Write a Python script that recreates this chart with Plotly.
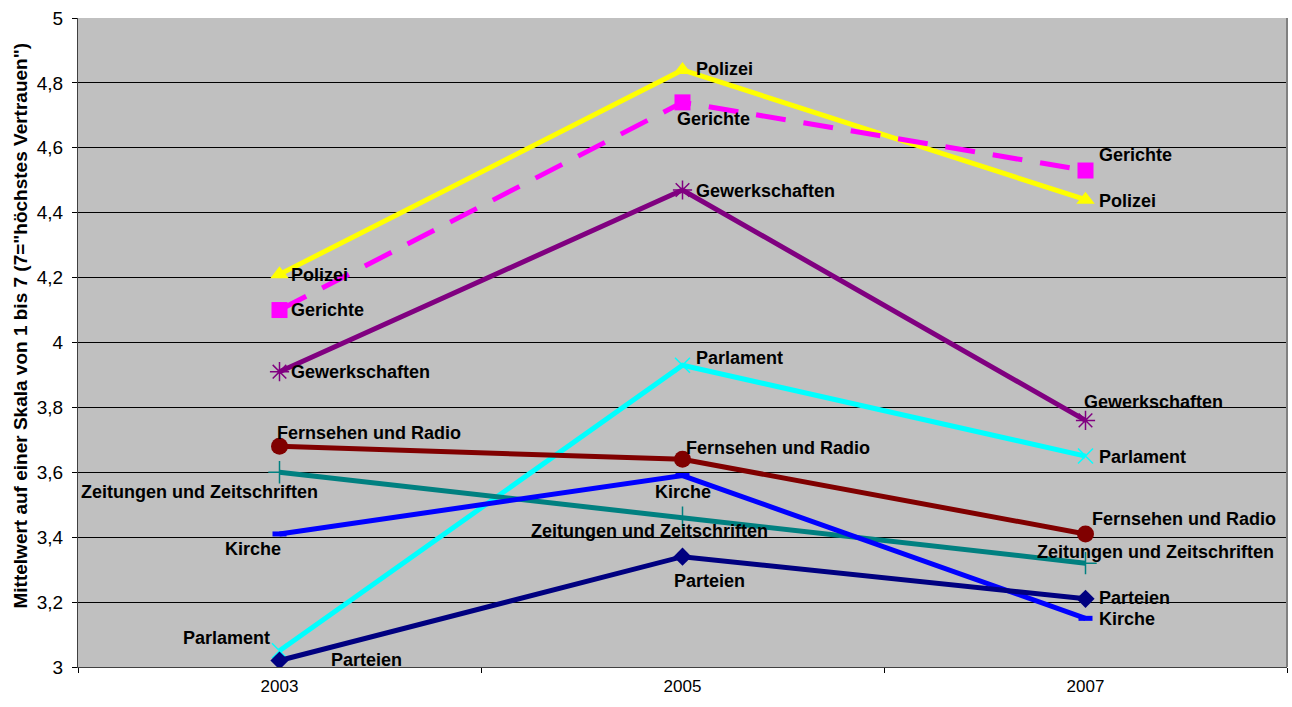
import plotly.graph_objects as go

years = ["2003", "2005", "2007"]

polizei = [4.21, 4.84, 4.44]
gerichte = [4.10, 4.74, 4.53]
gewerkschaften = [3.91, 4.47, 3.76]
parlament = [3.05, 3.93, 3.65]
fernsehen = [3.68, 3.64, 3.41]
zeitungen = [3.60, 3.46, 3.32]
kirche = [3.41, 3.59, 3.15]
parteien = [3.02, 3.34, 3.21]

y_title = 'Mittelwert auf einer Skala von 1 bis 7 (7="höchstes Vertrauen")'

FONT = "Liberation Sans, Arial, sans-serif"
LABEL_SIZE = 18

# name, values, colour, marker symbol, marker size, dash, label offsets per year
# offsets: (xanchor, xshift, yshift)
series = [
    ("Polizei", polizei, "#FFFF00", "triangle-up", 16, "solid",
     [("left", 10, -1), ("left", 12, 1), ("left", 12, -1)]),
    ("Gerichte", gerichte, "#FF00FF", "square", 16, "30px,18px",
     [("left", 10, 0), ("left", -7, -17), ("left", 12, 16)]),
    ("Gewerkschaften", gewerkschaften, "#800080", "asterisk-open", 16, "solid",
     [("left", 10, 0), ("left", 12, -1), ("left", -3, 18)]),
    ("Parlament", parlament, "#00FFFF", "x-thin-open", 15, "solid",
     [("right", -9, 13), ("left", 12, 7), ("left", 12, -1)]),
    ("Fernsehen und Radio", fernsehen, "#800000", "circle", 17, "solid",
     [("left", -4, 13), ("left", 2, 11), ("left", 5, 15)]),
    ("Zeitungen und Zeitschriften", zeitungen, "#008080", "cross-thin-open", 16, "solid",
     [("center", -80, -20), ("center", -33, -13), ("left", -50, 11)]),
    ("Kirche", kirche, "#0000FF", "line-ew-open", 10, "solid",
     [("right", 2, -15), ("center", 0, -16), ("left", 12, -1)]),
    ("Parteien", parteien, "#000080", "diamond", 14, "solid",
     [("left", 50, 1), ("left", -10, -24), ("left", 12, 1)]),
]

fig = go.Figure()

for name, vals, color, sym, msize, dash, offs in series:
    marker = dict(color=color, size=msize, symbol=sym)
    if sym.endswith("-open"):
        marker["line"] = dict(color=color, width=1.5 if sym != "line-ew-open" else 5)
    fig.add_trace(go.Scatter(
        x=years, y=vals, name=name,
        mode="lines+markers",
        line=dict(color=color, width=5, dash=dash),
        marker=marker,
        showlegend=False,
    ))
    # category axis: annotation x is the category index
    for idx, (v, (xa, xs, ys)) in enumerate(zip(vals, offs)):
        fig.add_annotation(
            x=idx, y=v, xref="x", yref="y", text="<b>" + name + "</b>",
            showarrow=False, xanchor=xa, yanchor="middle",
            xshift=xs, yshift=ys, borderpad=0,
            font=dict(family=FONT, size=LABEL_SIZE, color="black"),
        )

# vertical axis title, centred on the whole figure height
fig.add_annotation(
    x=0, y=0.5, xref="paper", yref="paper",
    xanchor="center", yanchor="middle",
    xshift=-58, yshift=17,
    text="<b>" + y_title + "</b>", textangle=-90, showarrow=False,
    font=dict(family=FONT, size=19, color="black"),
)

fig.update_layout(
    width=1292, height=707,
    margin=dict(l=78, r=5, t=18, b=40),
    paper_bgcolor="white",
    plot_bgcolor="#C0C0C0",
    separators=", ",
    font=dict(family=FONT, size=17, color="black"),
    xaxis=dict(
        type="category", range=[-0.5, 2.5],
        tickson="boundaries", ticks="outside", ticklen=5,
        tickcolor="black", showgrid=False,
        showline=True, linecolor="#404040", linewidth=1,
        tickfont=dict(family=FONT, size=17, color="black"),
        ticklabelstandoff=4,
        zeroline=False,
    ),
    yaxis=dict(
        range=[3, 5], dtick=0.2, tick0=3,
        ticks="outside", ticklen=5, tickcolor="black",
        showgrid=True, gridcolor="black", gridwidth=1,
        showline=True, linecolor="#404040", linewidth=1,
        zeroline=False,
        tickfont=dict(family=FONT, size=19, color="black"),
        ticklabelstandoff=5,
    ),
    shapes=[dict(type="line", xref="paper", yref="paper",
                 x0=1, x1=1, y0=0, y1=1,
                 line=dict(color="#808080", width=2))],
)

fig.write_html("out.html")
